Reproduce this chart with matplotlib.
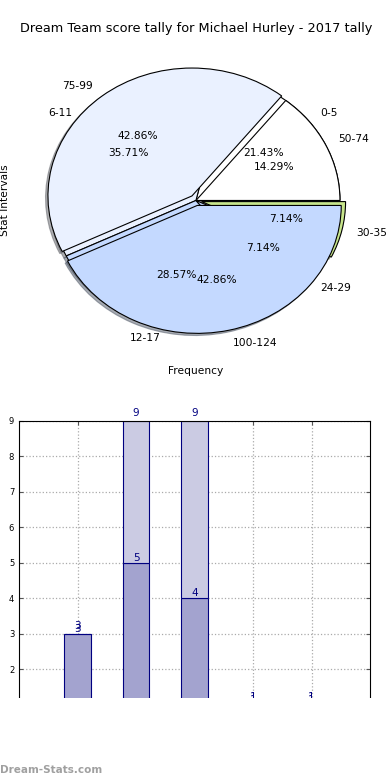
import matplotlib
matplotlib.use("Agg")
import matplotlib.pyplot as plt
from matplotlib.patches import Rectangle
import numpy as np

# score tally data
low_bins = ['0-5', '6-11', '12-17', '24-29', '30-35']
low_counts = [3, 5, 4, 1, 1]
high_bins = ['50-74', '75-99', '100-124']
high_counts = [1, 3, 3]

bar_pos = [1, 2, 3, 4, 5]
bar_first = [3, 5, 4, 1, 1]
bar_second = [0, 4, 5, 0, 0]

low_colors = ['#ffffff', '#eaf1ff', '#c4d9ff', '#c4d9ff', '#c8e68c']
high_colors = ['#ffffff', '#eaf1ff', '#c4d9ff']

fig = plt.figure(figsize=(3.9, 7.8), dpi=100)

# pie chart (two pies on the same axes)
ax1 = fig.add_axes([0.041, 0.538, 0.923, 0.41])
wp = dict(edgecolor='black', linewidth=0.8)
shad = dict(ox=-0.012, oy=-0.012, shade=0.6)
ax1.pie(low_counts, labels=low_bins, colors=low_colors, autopct='%.2f%%',
        explode=[0, 0, 0, 0, 0.04], shadow=shad, wedgeprops=wp,
        textprops=dict(fontsize=7.7))
ax1.pie(high_counts, labels=high_bins, colors=high_colors, autopct='%.2f%%',
        explode=[0, 0.045, 0.04], shadow=shad, wedgeprops=wp,
        textprops=dict(fontsize=7.7))
ax1.set_aspect('auto')
ax1.set_xlim(-1.25, 1.25)
ax1.set_ylim(-1.25, 1.25)
ax1.set_title('Dream Team score tally for Michael Hurley - 2017 tally', fontsize=9.3)
ax1.set_xlabel('Frequency', fontsize=7.7)
ax1.set_ylabel('Stat Intervals', fontsize=7.7)

# stacked bar chart
ax2 = fig.add_axes([0.049, 0.0513, 0.9, 0.409])
b1 = ax2.bar(bar_pos, bar_first, width=0.45, color='#a3a3cf', edgecolor='#000080', linewidth=0.8)
b2 = ax2.bar(bar_pos, bar_second, width=0.45, bottom=bar_first, color='#cbcbe3',
             edgecolor='#000080', linewidth=0.8)
for x, v in zip(bar_pos, bar_first):
    ax2.annotate(str(v), (x, v), xytext=(0, 0), textcoords='offset points',
                 ha='center', va='bottom', fontsize=7.5, color='#000080')
for x, v, w in zip(bar_pos, bar_first, bar_second):
    ax2.annotate(str(v + w), (x, v + w), xytext=(0, 2), textcoords='offset points',
                 ha='center', va='bottom', fontsize=7.5, color='#000080')
ax2.set_xlim(0, 6)
ax2.set_ylim(0, 9)
ax2.set_xticks(bar_pos)
ax2.set_yticks(range(0, 10))
ax2.tick_params(direction='in', top=True, right=True, labelsize=6, length=3, color='#555555')
ax2.grid(True, linestyle=':', color='#aaaaaa', linewidth=0.9)
ax2.set_axisbelow(True)
ax2.set_ylabel('Stat Intervals', fontsize=7.7)

# the picture is cut off at the bottom
fig.add_artist(Rectangle((0, 0), 1, 82 / 780, transform=fig.transFigure,
                         facecolor='white', edgecolor='none', zorder=10))
fig.text(0.0, 0.013, 'Dream-Stats.com', fontsize=7.5, fontweight='bold',
         color='#a0a0a0', ha='left', va='center', zorder=11)

fig.savefig('out.png', dpi=100)
